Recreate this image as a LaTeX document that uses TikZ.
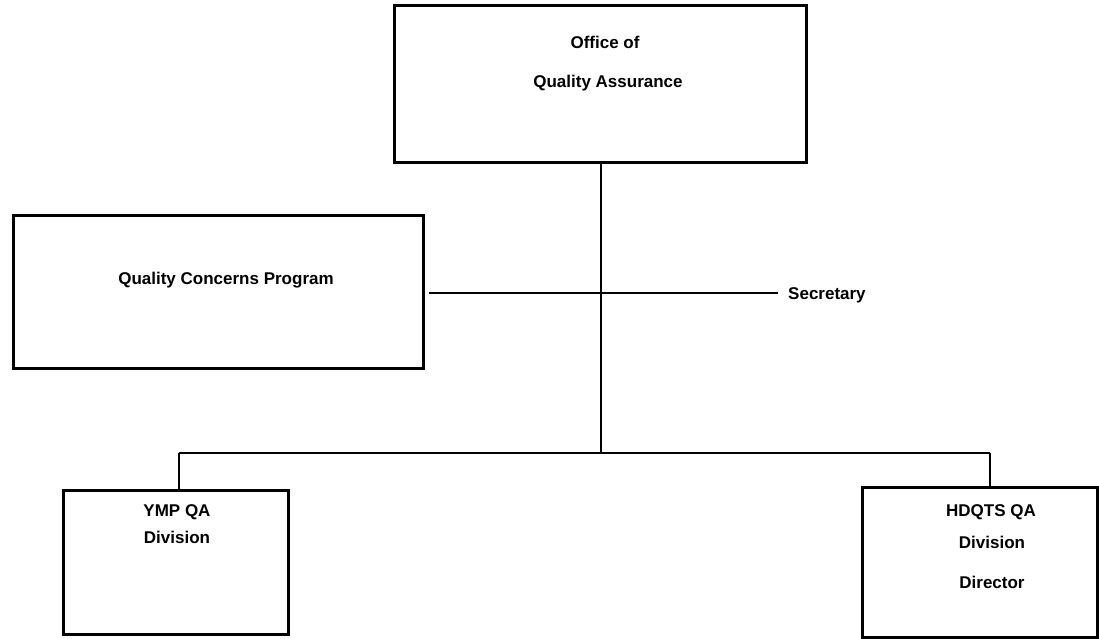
\documentclass[tikz,border=0pt]{standalone}
\usepackage{fontspec}
\setmainfont{Liberation Sans}
\begin{document}
\begin{tikzpicture}[x=1pt,y=-1pt,
  orgbox/.style={draw=black, line width=3pt, rectangle, inner sep=0pt},
  link/.style={draw=black, line width=2.2pt},
  lbl/.style={anchor=base, inner sep=0pt, font=\fontsize{17}{19}\selectfont\bfseries}]
\useasboundingbox[fill=white] (0,0) rectangle (1099,639);
% boxes
\node[orgbox, minimum width=412pt, minimum height=157pt] (oqa) at (600,84.5) {};
\node[orgbox, minimum width=410pt, minimum height=153pt] (qcp) at (218,291.5) {};
\node[orgbox, minimum width=225pt, minimum height=144pt] (ymp) at (175.5,562) {};
\node[orgbox, minimum width=235pt, minimum height=150pt] (hq) at (979.5,562) {};
% texts
\node[lbl] (t1) at (605,49) {Office of};
\node[lbl] (t2) at (608,88) {Quality Assurance};
\node[lbl] (t3) at (226,284) {Quality Concerns Program};
\node[lbl, anchor=base west] (sec) at (788,299) {Secretary};
\node[lbl] (t4) at (177,516) {YMP QA};
\node[lbl] (t5) at (177,543) {Division};
\node[lbl] (t6) at (991,516) {HDQTS QA};
\node[lbl] (t7) at (992,548) {Division};
\node[lbl] (t8) at (992,588) {Director};
% connector points
\coordinate (busc) at (601,453);
\coordinate (secl) at (429,293);
\coordinate (secr) at (778,293);
\coordinate (busl) at (179,453);
\coordinate (busr) at (990,453);
% connectors
\draw[link] (oqa.south -| busc) -- (busc);
\draw[link] (secl) -- (secr);
\draw[link] (busl) -- (busr);
\draw[link] (busl) -- (busl |- ymp.north);
\draw[link] (busr) -- (busr |- hq.north);
\end{tikzpicture}
\end{document}
